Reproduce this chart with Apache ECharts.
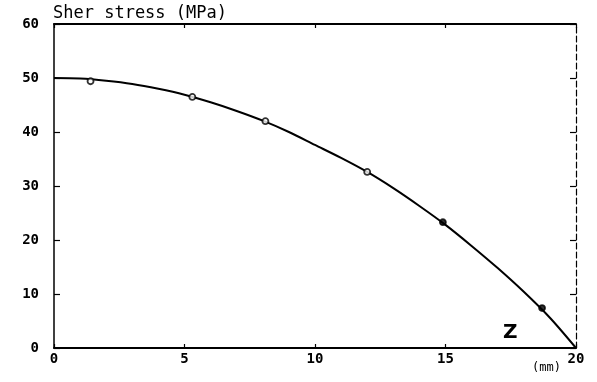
<!DOCTYPE html>
<html>
<head>
<meta charset="utf-8">
<script src="https://cdn.jsdelivr.net/npm/echarts@6/dist/echarts.min.js"></script>
<style>html,body{margin:0;padding:0;background:#fff;}#c{width:597px;height:382px;}</style>
</head>
<body>
<div id="c"></div>
<script>
// Data
var curveZ = [0, 1, 2, 3, 4, 5, 6, 7, 8, 9, 10, 11, 12, 13, 14, 15, 16, 17, 18, 19, 20];
var curveStress = [50, 49.9, 49.5, 48.9, 48, 46.9, 45.5, 43.9, 42.1, 40, 37.6, 35.2, 32.6, 29.6, 26.3, 22.8, 18.9, 14.8, 10.4, 5.6, 0];
var pointZ = [1.4, 5.3, 8.1, 12.0, 14.9, 18.7];
var pointStress = [49.4, 46.5, 42.0, 32.6, 23.3, 7.4];
var xTicks = [0, 5, 10, 15, 20];
var yTicks = [0, 10, 20, 30, 40, 50, 60];

var curve = curveZ.map(function (z, i) { return [z, curveStress[i]]; });
var pts = pointZ.map(function (z, i) {
  return {value: [z, pointStress[i]], itemStyle: {color: i >= 4 ? '#000' : '#fff'}};
});

var font = '"DejaVu Sans Mono", monospace';
var chart = echarts.init(document.getElementById('c'), null, {renderer: 'canvas'});
chart.setOption({
  animation: false,
  backgroundColor: '#fff',
  grid: {left: 54, right: 21, top: 24, bottom: 34, containLabel: false},
  xAxis: [{
    type: 'value', min: xTicks[0], max: xTicks[xTicks.length - 1], interval: 5, position: 'bottom',
    axisLine: {onZero: false, lineStyle: {color: '#000', width: 2}},
    axisTick: {inside: true, length: 4, lineStyle: {color: '#000', width: 1.2}},
    axisLabel: {color: '#000', fontFamily: font, fontWeight: 'bold', fontSize: 14, margin: 4},
    splitLine: {show: false}
  }, {
    type: 'value', min: 0, max: 20, interval: 5, position: 'top',
    axisLine: {show: true, onZero: false, lineStyle: {color: '#000', width: 2}},
    axisTick: {show: true, inside: true, length: 4, lineStyle: {color: '#000', width: 1.2}},
    axisLabel: {show: false},
    splitLine: {show: false}
  }],
  yAxis: [{
    type: 'value', min: yTicks[0], max: yTicks[yTicks.length - 1], interval: 10, position: 'left',
    axisLine: {show: true, onZero: false, lineStyle: {color: '#000', width: 1.5}},
    axisTick: {show: true, inside: true, length: 6, lineStyle: {color: '#000', width: 1.2}},
    axisLabel: {color: '#000', fontFamily: font, fontWeight: 'bold', fontSize: 14, margin: 15},
    splitLine: {show: false}
  }, {
    type: 'value', min: 0, max: 60, interval: 10, position: 'right',
    axisLine: {show: true, onZero: false, lineStyle: {color: '#000', width: 1.2, type: [6, 3]}},
    axisTick: {show: true, inside: true, length: 6, lineStyle: {color: '#000', width: 1.2}},
    axisLabel: {show: false},
    splitLine: {show: false}
  }],
  series: [{
    type: 'line', data: curve, smooth: 0.3, showSymbol: false, symbol: 'none',
    lineStyle: {color: '#000', width: 2}, z: 2
  }, {
    type: 'scatter', data: pts, symbol: 'circle', symbolSize: 6,
    itemStyle: {color: '#fff', borderColor: '#000', borderWidth: 1.8}, z: 3
  }],
  graphic: [
    {type: 'text', left: 53, top: 5, style: {text: 'Sher stress (MPa)', fill: '#000', font: '17px ' + font}},
    {type: 'text', left: 503, top: 323, style: {text: 'Z', fill: '#000', font: 'bold 20px "DejaVu Sans", sans-serif'}},
    {type: 'text', left: 532, top: 362, style: {text: '(mm)', fill: '#000', font: '12px ' + font}}
  ]
});
</script>
</body>
</html>
